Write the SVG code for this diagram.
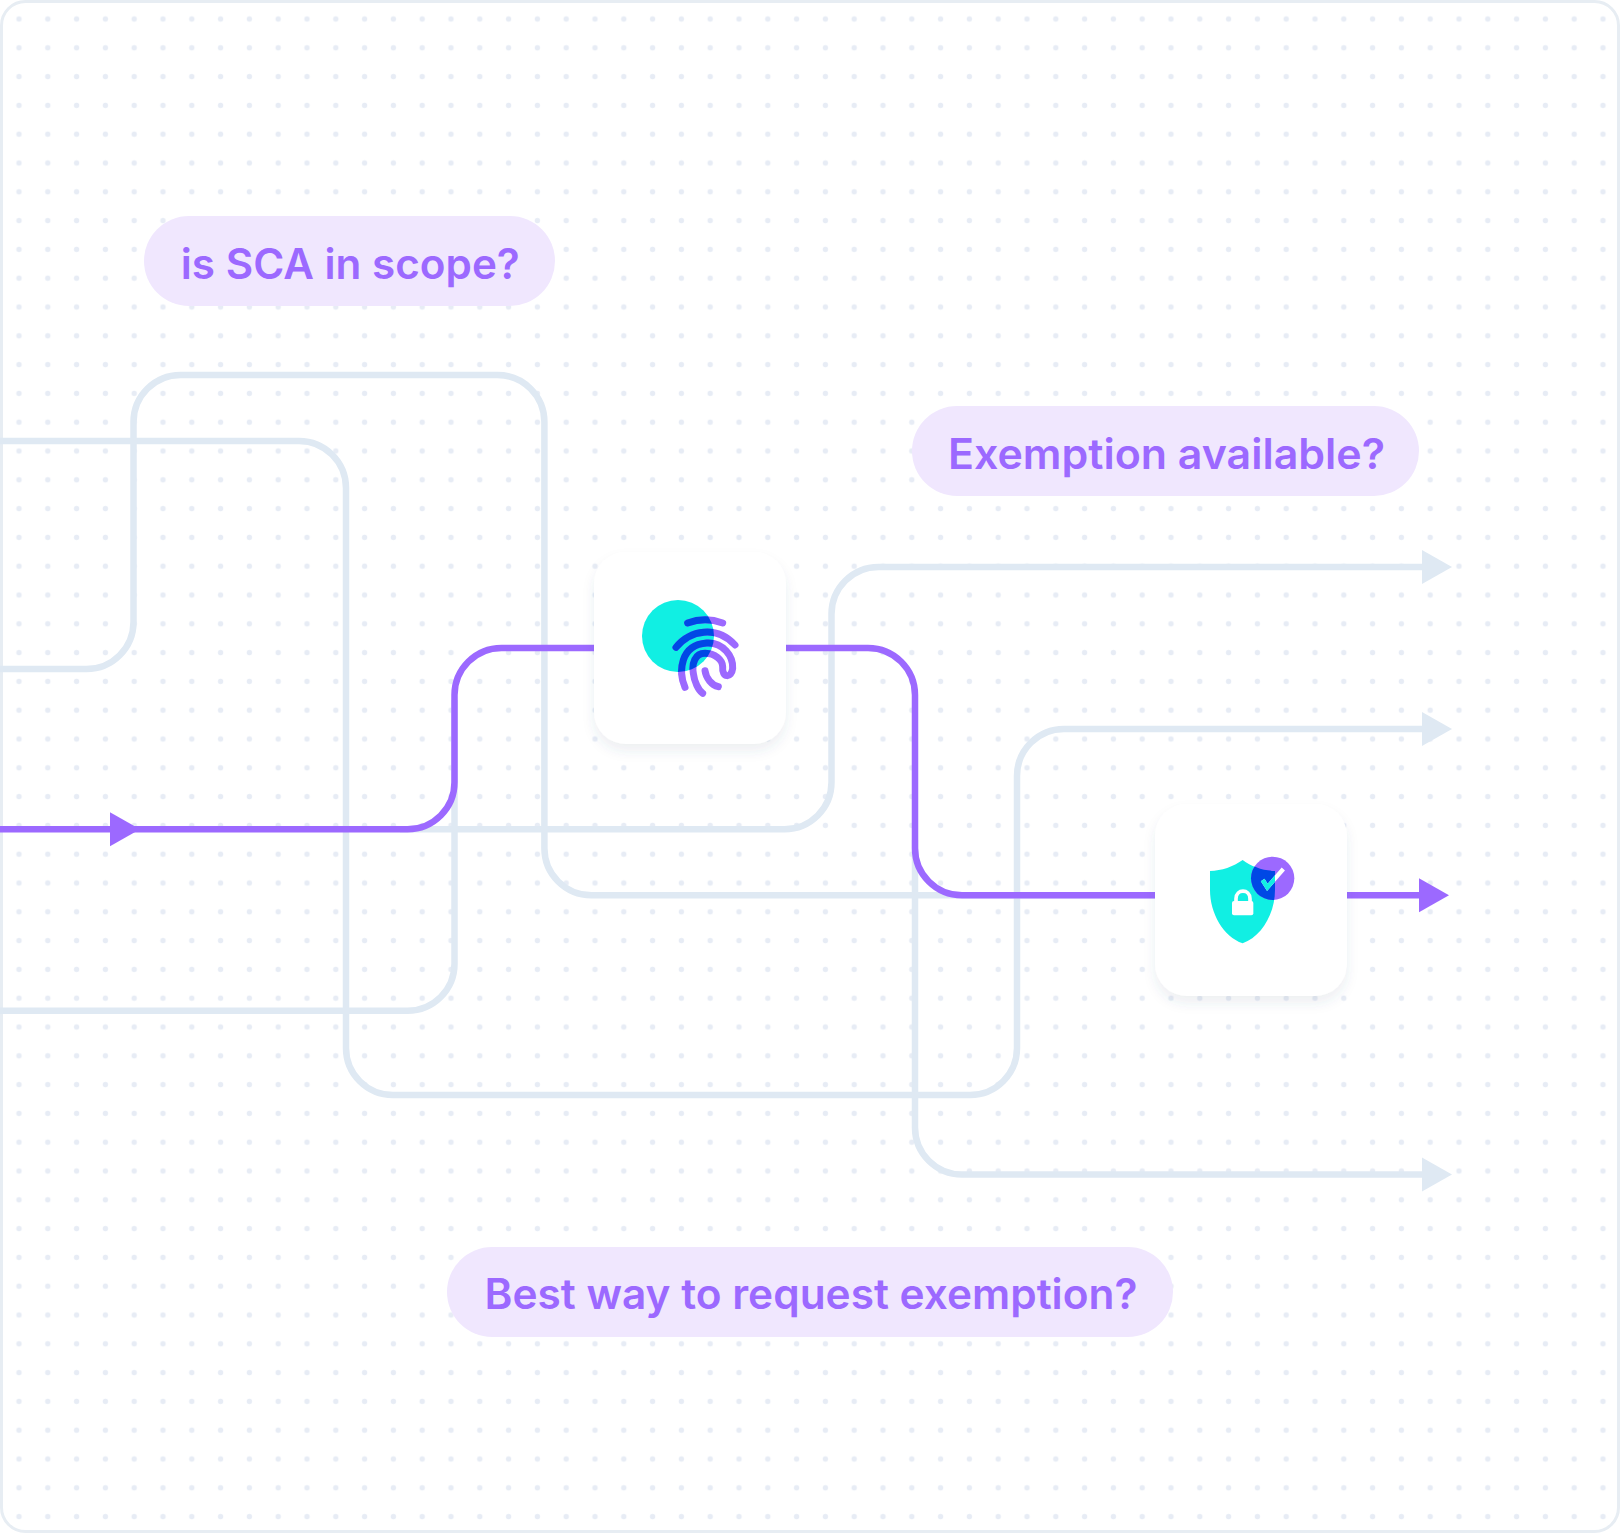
<svg xmlns="http://www.w3.org/2000/svg" width="1620" height="1533" viewBox="0 0 1620 1533">
<style>
.frame{fill:#fff;stroke:#E7EDF3;stroke-width:3}
.light{fill:none;stroke:#DFE9F3;stroke-width:6.500}
.purple{fill:none;stroke:#9C69FF;stroke-width:6.500}
.card{fill:#fff;filter:url(#sh)}
.pill{fill:#F0E7FE}
.lab{font-family:Inter,"Liberation Sans",sans-serif;font-weight:600;font-size:42px;fill:#9C69FF;text-anchor:middle}
.fp{fill:none;stroke-width:21;stroke-linecap:round;stroke-linejoin:round}
</style>
<defs>
<pattern id="dots" x="4.6" y="4.6" width="28.8" height="28.8" patternUnits="userSpaceOnUse"><circle cx="14.4" cy="14.4" r="2.7" fill="#E7ECF5"/></pattern>
<marker id="al" markerUnits="userSpaceOnUse" markerWidth="31" markerHeight="36" refX="0" refY="18" orient="auto"><path d="M0 1L30 18L0 35Z" fill="#DFE9F3"/></marker>
<marker id="ap" markerUnits="userSpaceOnUse" markerWidth="31" markerHeight="36" refX="0" refY="18" orient="auto"><path d="M0 1L30 18L0 35Z" fill="#9C69FF"/></marker>
<filter id="sh" x="-20%" y="-20%" width="140%" height="150%"><feDropShadow dx="0" dy="7" stdDeviation="6" flood-color="#3C4A78" flood-opacity="0.09"/></filter>
<clipPath id="c1"><circle cx="294" cy="258" r="108"/></clipPath>
<path id="shield" d="M308 180C280 200 245 212 210 213V270C210 340 250 410 308 430C365 410 405 340 405 270V213C370 212 335 200 308 180Z"/>
<clipPath id="c2"><use href="#shield"/></clipPath>
</defs>
<rect class="frame" x="1.5" y="1.5" width="1617" height="1530" rx="24"/>
<rect x="3" y="3" width="1614" height="1527" rx="23" fill="url(#dots)"/>
<g id="connectors">
<path class="light" d="M0 669H86.5A47 47 0 0 0 133.5 622V422A47 47 0 0 1 180.5 375H497.4A47 47 0 0 1 544.4 422V848.300A47 47 0 0 0 591.400 895.300H1155"/>
<path class="light" marker-end="url(#al)" d="M0 441H299A47 47 0 0 1 346 488V1048A47 47 0 0 0 393 1095H970A47 47 0 0 0 1017 1048V776A47 47 0 0 1 1064 729H1422"/>
<path class="light" d="M0 1010.700H407.500A47 47 0 0 0 454.500 963.700V700"/>
<path class="light" marker-end="url(#al)" d="M400 829.300H784.500A47 47 0 0 0 831.500 782.300V614A47 47 0 0 1 878.500 567H1422"/>
<path class="light" marker-end="url(#al)" d="M915 840V1127.500A47 47 0 0 0 962 1174.500H1422"/>
<path class="purple" marker-end="url(#ap)" d="M0 829.300H110"/>
<path class="purple" d="M130 829.300H407.500A47 47 0 0 0 454.500 782.300V695A47 47 0 0 1 501.500 648H600"/>
<path class="purple" d="M780 648H868A47 47 0 0 1 915 695V848.300A47 47 0 0 0 962 895.300H1160"/>
<path class="purple" marker-end="url(#ap)" d="M1340 895.300H1419"/>
</g>
<g id="node-fingerprint">
<rect class="card" x="594" y="552" width="192" height="192" rx="32"/>
<g transform="translate(580 550) scale(.33333)">
<circle cx="294" cy="258" r="108" fill="#11EFE3"/>
<g id="fpa" class="fp" stroke="#9C69FF">
<path d="M323 219Q375 200 428 219"/>
<path d="M288 292C330 240 410 225 465 285"/>
<path d="M315 412C295 365 300 285 380 279C430 276 460 320 458 355C455 385 425 385 428 350C428 330 405 310 375 310C345 310 335 340 340 370C343 395 355 420 368 430"/>
<path d="M375 362C378 385 395 405 415 410"/>
</g>
<g class="fp" stroke="#0048E5" clip-path="url(#c1)">
<path d="M323 219Q375 200 428 219"/>
<path d="M288 292C330 240 410 225 465 285"/>
<path d="M315 412C295 365 300 285 380 279C430 276 460 320 458 355C455 385 425 385 428 350C428 330 405 310 375 310C345 310 335 340 340 370C343 395 355 420 368 430"/>
</g>
</g>
</g>
<g id="node-shield">
<rect class="card" x="1155" y="804" width="192" height="192" rx="32"/>
<g transform="translate(1140 800) scale(.33333)">
<use href="#shield" fill="#11EFE3"/>
<circle cx="398" cy="235" r="65" fill="#9C69FF"/>
<circle cx="398" cy="235" r="65" fill="#0048E5" clip-path="url(#c2)"/>
<path d="M288 310V296C288 266 330 266 330 296V310" fill="none" stroke="#fff" stroke-width="11"/>
<rect x="276" y="303" width="64" height="43" rx="6" fill="#fff"/>
<path d="M368 240L382 262L430 207" fill="none" stroke="#fff" stroke-width="13"/>
<path d="M368 240L382 262L430 207" fill="none" stroke="#11EFE3" stroke-width="13" clip-path="url(#c2)"/>
</g>
</g>
<g id="pill-sca"><rect class="pill" x="144" y="216" width="411" height="90" rx="45"/><text class="lab" x="350.300" y="279" textLength="339" lengthAdjust="spacingAndGlyphs">is SCA in scope?</text></g>
<g id="pill-exemption"><rect class="pill" x="912" y="406" width="507" height="90" rx="45"/><text class="lab" x="1166.500" y="469" textLength="437" lengthAdjust="spacingAndGlyphs">Exemption available?</text></g>
<g id="pill-best"><rect class="pill" x="447" y="1247" width="726" height="90" rx="45"/><text class="lab" x="811" y="1309" textLength="653" lengthAdjust="spacingAndGlyphs">Best way to request exemption?</text></g>
</svg>
